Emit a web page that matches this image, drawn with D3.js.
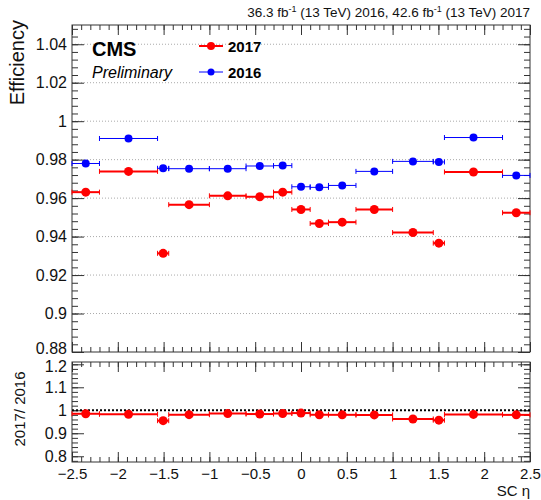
<!DOCTYPE html>
<html>
<head>
<meta charset="utf-8">
<title>Efficiency vs SC eta</title>
<script src="https://d3js.org/d3.v7.min.js"></script>
<style>
  body { margin: 0; background: #fff; }
  svg { font-family: "Liberation Sans", Arial, sans-serif; }
  .tick text { fill: #111; }
</style>
</head>
<body>
<div id="chart"></div>
<script>
// bin edges in SC eta
const binEdges = [-2.5, -2.2, -1.566, -1.444, -1.0, -0.6, -0.3, -0.1, 0.1, 0.3, 0.6, 1.0, 1.444, 1.566, 2.2, 2.5];
// efficiency per bin
const eff2017 = [0.9631, 0.9739, 0.9313, 0.9566, 0.9612, 0.9607, 0.9631, 0.9541, 0.9468, 0.9475, 0.9541, 0.9421, 0.9366, 0.9736, 0.9524];
const err2017 = [0.0008, 0.0005, 0.0018, 0.0006, 0.0005, 0.0006, 0.0008, 0.0008, 0.0006, 0.0006, 0.0005, 0.0006, 0.0018, 0.0005, 0.0008];
const eff2016 = [0.9780, 0.9910, 0.9755, 0.9753, 0.9753, 0.9767, 0.9769, 0.9659, 0.9656, 0.9666, 0.9739, 0.9791, 0.9788, 0.9915, 0.9718];
const err2016 = [0.0005, 0.0004, 0.0010, 0.0004, 0.0004, 0.0004, 0.0005, 0.0005, 0.0004, 0.0004, 0.0004, 0.0004, 0.0010, 0.0004, 0.0005];
// ratio 2017 / 2016
const ratio = [0.9848, 0.9827, 0.9547, 0.9808, 0.9855, 0.9836, 0.9859, 0.9878, 0.9805, 0.9802, 0.9797, 0.9622, 0.9569, 0.9819, 0.9800];
const ratioErr = [0.0010, 0.0007, 0.0020, 0.0008, 0.0007, 0.0008, 0.0010, 0.0010, 0.0008, 0.0008, 0.0007, 0.0008, 0.0020, 0.0007, 0.0010];

const xTicks = [-2.5, -2, -1.5, -1, -0.5, 0, 0.5, 1, 1.5, 2, 2.5];
const yTicks = [0.88, 0.9, 0.92, 0.94, 0.96, 0.98, 1, 1.02, 1.04];
const rTicks = [0.8, 0.9, 1, 1.1, 1.2];

const width = 541, height = 500;
const left = 72, right = 530;
const topY0 = 25, topY1 = 352;
const botY0 = 362, botY1 = 462;

const svg = d3.select("#chart").append("svg")
  .attr("width", width).attr("height", height);

const x = d3.scaleLinear().domain([-2.5, 2.5]).range([left, right]);
const y = d3.scaleLinear().domain([0.88, 1.05]).range([topY1, topY0]);
const yr = d3.scaleLinear().domain([0.775, 1.21]).range([botY1, botY0]);

const fmt = d3.format("~g");
const axisColor = "#333";

function styleAxis(g) {
  g.select(".domain").remove();
  g.selectAll(".tick line").attr("stroke", axisColor);
}

// build per-bin records
const bins = eff2017.map((v, i) => ({
  lo: binEdges[i], hi: binEdges[i + 1], c: (binEdges[i] + binEdges[i + 1]) / 2,
  e17: v, s17: err2017[i], e16: eff2016[i], s16: err2016[i], r: ratio[i], sr: ratioErr[i]
}));

function drawPanel(yScale, y0, y1, majors, minorStep, labelFmt, xLabels) {
  const minors = d3.range(yScale.domain()[0] - 1e-9, yScale.domain()[1], minorStep)
    .map(v => Math.ceil(v / minorStep - 1e-6) * minorStep)
    .filter(v => v >= yScale.domain()[0] - 1e-9 && v <= yScale.domain()[1] + 1e-9);
  const xMinors = d3.range(-2.5, 2.5001, 0.1);

  // left axis
  svg.append("g").attr("transform", `translate(${left},0)`)
    .call(d3.axisLeft(yScale).tickValues(minors).tickSize(-6).tickFormat(""))
    .call(styleAxis);
  const ly = svg.append("g").attr("transform", `translate(${left},0)`)
    .call(d3.axisLeft(yScale).tickValues(majors).tickSize(-12).tickPadding(5).tickFormat(labelFmt))
    .call(styleAxis);
  ly.selectAll("text").attr("font-size", 16);
  // right axis
  svg.append("g").attr("transform", `translate(${right},0)`)
    .call(d3.axisRight(yScale).tickValues(minors).tickSize(-6).tickFormat(""))
    .call(styleAxis);
  svg.append("g").attr("transform", `translate(${right},0)`)
    .call(d3.axisRight(yScale).tickValues(majors).tickSize(-12).tickFormat(""))
    .call(styleAxis);
  // bottom axis
  svg.append("g").attr("transform", `translate(0,${y1})`)
    .call(d3.axisBottom(x).tickValues(xMinors).tickSize(-5).tickFormat(""))
    .call(styleAxis);
  const bx = svg.append("g").attr("transform", `translate(0,${y1})`)
    .call(d3.axisBottom(x).tickValues(xTicks).tickSize(-10).tickPadding(6)
      .tickFormat(xLabels ? d3.format("~g") : ""))
    .call(styleAxis);
  bx.selectAll("text").attr("font-size", 15);
  // top axis
  svg.append("g").attr("transform", `translate(0,${y0})`)
    .call(d3.axisTop(x).tickValues(xMinors).tickSize(-5).tickFormat(""))
    .call(styleAxis);
  svg.append("g").attr("transform", `translate(0,${y0})`)
    .call(d3.axisTop(x).tickValues(xTicks).tickSize(-10).tickFormat(""))
    .call(styleAxis);
  // frame
  svg.append("rect").attr("x", left).attr("y", y0)
    .attr("width", right - left).attr("height", y1 - y0)
    .attr("fill", "none").attr("stroke", axisColor).attr("stroke-width", 1);
  return ly;
}

// gridlines in top panel
svg.append("g").selectAll("line")
  .data(yTicks.filter(v => v > 0.88))
  .join("line")
  .attr("x1", left).attr("x2", right)
  .attr("y1", d => y(d)).attr("y2", d => y(d))
  .attr("stroke", "#aaa").attr("stroke-dasharray", "1,2");

const topAxis = drawPanel(y, topY0, topY1, yTicks, 0.004, fmt, false);
const ratioAxis = drawPanel(yr, botY0, botY1, rTicks, 0.02, fmt, true);
// keep the edge labels of the two panels apart, as in the original
topAxis.selectAll(".tick").filter(d => d === 0.88).select("text").attr("y", -4);
ratioAxis.selectAll(".tick").filter(d => d === 1.2).select("text").attr("y", 2);

// dotted line at ratio 1
svg.append("line")
  .attr("x1", left).attr("x2", right)
  .attr("y1", yr(1)).attr("y2", yr(1))
  .attr("stroke", "#000").attr("stroke-width", 2).attr("stroke-dasharray", "2,2");

function drawPoints(yScale, key, errKey, color, lw, r) {
  const g = svg.append("g").attr("stroke", color).attr("fill", color);
  const pts = g.selectAll("g").data(bins).join("g");
  pts.append("line")
    .attr("x1", d => x(d.lo)).attr("x2", d => x(d.hi))
    .attr("y1", d => yScale(d[key])).attr("y2", d => yScale(d[key]))
    .attr("stroke-width", lw);
  pts.append("line")
    .attr("x1", d => x(d.c)).attr("x2", d => x(d.c))
    .attr("y1", d => yScale(d[key] - d[errKey])).attr("y2", d => yScale(d[key] + d[errKey]))
    .attr("stroke-width", lw);
  // end caps
  ["lo", "hi"].forEach(side => {
    pts.append("line")
      .attr("x1", d => x(d[side])).attr("x2", d => x(d[side]))
      .attr("y1", d => yScale(d[key]) - 2.5).attr("y2", d => yScale(d[key]) + 2.5)
      .attr("stroke-width", 1);
  });
  pts.append("circle")
    .attr("cx", d => x(d.c)).attr("cy", d => yScale(d[key]))
    .attr("r", r).attr("stroke", "none");
}

drawPoints(y, "e16", "s16", "#0000ff", 1, 4);
drawPoints(y, "e17", "s17", "#ff0000", 2, 4.5);
drawPoints(yr, "r", "sr", "#ff0000", 2, 4.5);

// texts
svg.append("text").attr("x", right).attr("y", 17)
  .attr("text-anchor", "end").attr("font-size", 13.5).attr("fill", "#111")
  .call(t => {
    t.append("tspan").text("36.3 fb");
    t.append("tspan").attr("dy", -5).attr("font-size", 9).text("-1");
    t.append("tspan").attr("dy", 5).text(" (13 TeV) 2016, 42.6 fb");
    t.append("tspan").attr("dy", -5).attr("font-size", 9).text("-1");
    t.append("tspan").attr("dy", 5).text(" (13 TeV) 2017");
  });

svg.append("text").attr("x", 92).attr("y", 56)
  .attr("font-size", 20).attr("font-weight", "bold").text("CMS");
svg.append("text").attr("x", 92).attr("y", 78)
  .attr("font-size", 16).attr("font-style", "italic").text("Preliminary");

// legend
const legend = [
  { label: "2017", color: "#ff0000", lw: 2, r: 4, yy: 46 },
  { label: "2016", color: "#0000ff", lw: 1, r: 3.5, yy: 72 }
];
const lg = svg.append("g").selectAll("g").data(legend).join("g");
lg.append("line").attr("x1", 199).attr("x2", 223)
  .attr("y1", d => d.yy).attr("y2", d => d.yy)
  .attr("stroke", d => d.color).attr("stroke-width", d => d.lw);
lg.append("circle").attr("cx", 211).attr("cy", d => d.yy).attr("r", d => d.r)
  .attr("fill", d => d.color);
lg.append("text").attr("x", 228).attr("y", d => d.yy + 5.5)
  .attr("font-size", 15).attr("font-weight", "bold").text(d => d.label);

// axis titles
svg.append("text").attr("transform", "translate(24,20) rotate(-90)")
  .attr("text-anchor", "end").attr("font-size", 20).attr("fill", "#111").text("Efficiency");
svg.append("text").attr("transform", `translate(25,${(botY0 + botY1) / 2 - 3}) rotate(-90)`)
  .attr("text-anchor", "middle").attr("font-size", 15).attr("fill", "#111").text("2017/ 2016");
svg.append("text").attr("x", right).attr("y", 496)
  .attr("text-anchor", "end").attr("font-size", 15).attr("fill", "#111").text("SC η");
</script>
</body>
</html>
